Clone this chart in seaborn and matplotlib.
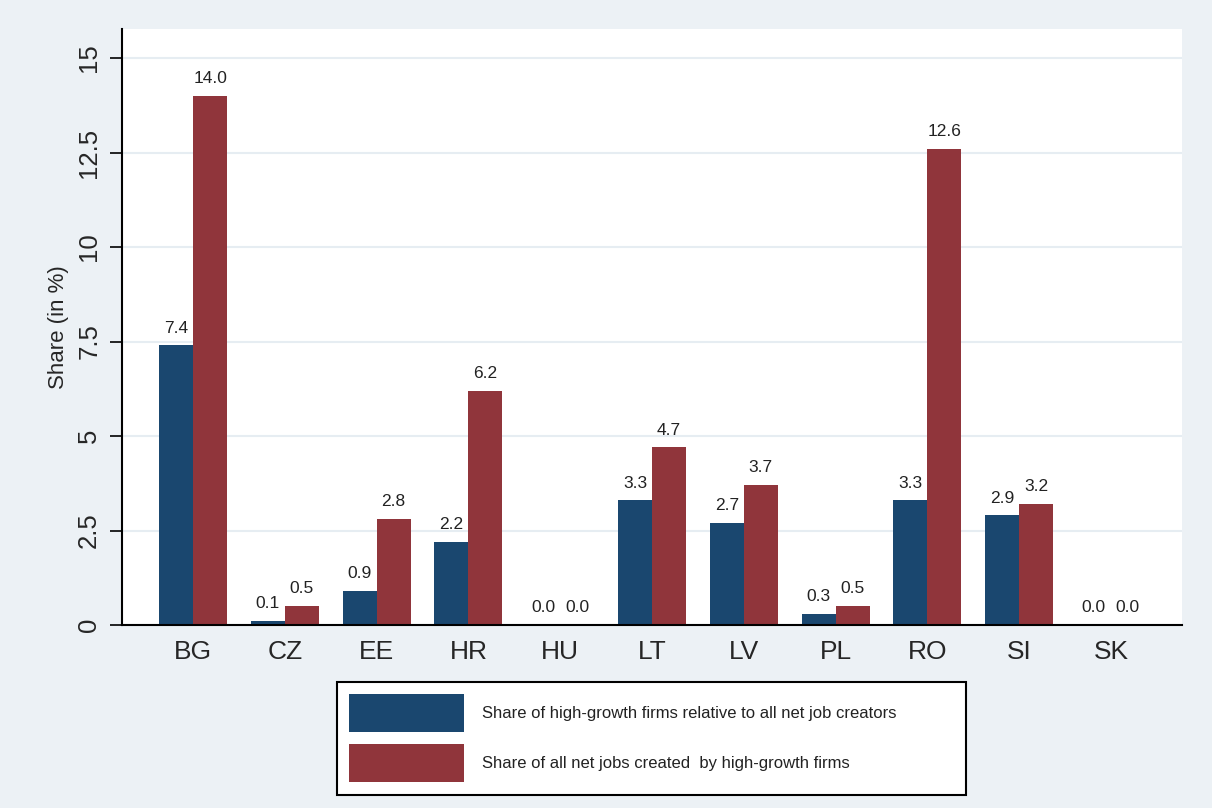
import pandas as pd
import matplotlib
matplotlib.use("Agg")
import matplotlib.pyplot as plt
import matplotlib.patches as mpatches
import seaborn as sns

countries = ["BG", "CZ", "EE", "HR", "HU", "LT", "LV", "PL", "RO", "SI", "SK"]
share_firms = [7.4, 0.1, 0.9, 2.2, 0.0, 3.3, 2.7, 0.3, 3.3, 2.9, 0.0]
share_jobs = [14.0, 0.5, 2.8, 6.2, 0.0, 4.7, 3.7, 0.5, 12.6, 3.2, 0.0]
series_names = ["Share of high-growth firms relative to all net job creators",
                "Share of all net jobs created  by high-growth firms"]
y_ticks = [0, 2.5, 5, 7.5, 10, 12.5, 15]
y_tick_labels = ["0", "2.5", "5", "7.5", "10", "12.5", "15"]

df = pd.DataFrame({
    "country": countries * 2,
    "value": share_firms + share_jobs,
    "series": [series_names[0]] * len(countries) + [series_names[1]] * len(countries),
})

bg = "#ECF1F5"
grid_col = "#E6EDF2"
navy = "#1A476F"
maroon = "#90353B"

sns.set_theme(style="white")
plt.rcParams["font.family"] = ["Liberation Sans", "DejaVu Sans"]

W, H = 1212, 808
fig = plt.figure(figsize=(W / 100, H / 100), dpi=100)
fig.patch.set_facecolor(bg)
ax = fig.add_axes([122 / W, 1 - 625 / H, 1060 / W, 596 / H])
ax.set_facecolor("white")

sns.barplot(data=df, x="country", y="value", hue="series",
            palette=[navy, maroon], saturation=1, width=0.74,
            dodge=True, ax=ax, legend=True, linewidth=0)

for cont in ax.containers:
    ax.bar_label(cont, fmt="%.1f", padding=7, fontsize=12.5, color="#222222")

ax.set_xlim(-0.775, len(countries) - 1 + 0.775)
ax.set_ylim(0, 15.77)
ax.set_yticks(y_ticks)
ax.set_yticklabels(y_tick_labels, rotation=90, va="center", fontsize=18.5)
ax.yaxis.grid(True, color=grid_col, linewidth=1.5)
ax.set_axisbelow(True)
ax.tick_params(axis="y", length=9, width=1.2, color="black", pad=6, left=True)
ax.tick_params(axis="x", length=0, pad=11, labelsize=19)

ax.set_xlabel("")
ax.set_ylabel("Share (in %)", fontsize=16, labelpad=6)

for s in ["top", "right"]:
    ax.spines[s].set_visible(False)
for s in ["left", "bottom"]:
    ax.spines[s].set_color("black")
    ax.spines[s].set_linewidth(1.5)

# legend box drawn separately (Stata leaves a wide right margin)
box = mpatches.Rectangle((337 / W, 1 - 795 / H), 629 / W, 113 / H,
                         transform=fig.transFigure, facecolor="white",
                         edgecolor="black", linewidth=1.5, zorder=1)
fig.patches.append(box)

handles, labels = ax.get_legend_handles_labels()
ax.get_legend().remove()
leg = fig.legend(handles, labels, loc="upper left",
                 bbox_to_anchor=(349 / W, 1 - 694 / H),
                 fontsize=12, frameon=False,
                 handlelength=6.9, handleheight=3.1, labelspacing=0.75,
                 handletextpad=1.1, borderpad=0, borderaxespad=0)
leg.set_zorder(2)
for t in leg.get_texts():
    t.set_color("#222222")

fig.savefig("out.png", dpi=100, facecolor=bg)
